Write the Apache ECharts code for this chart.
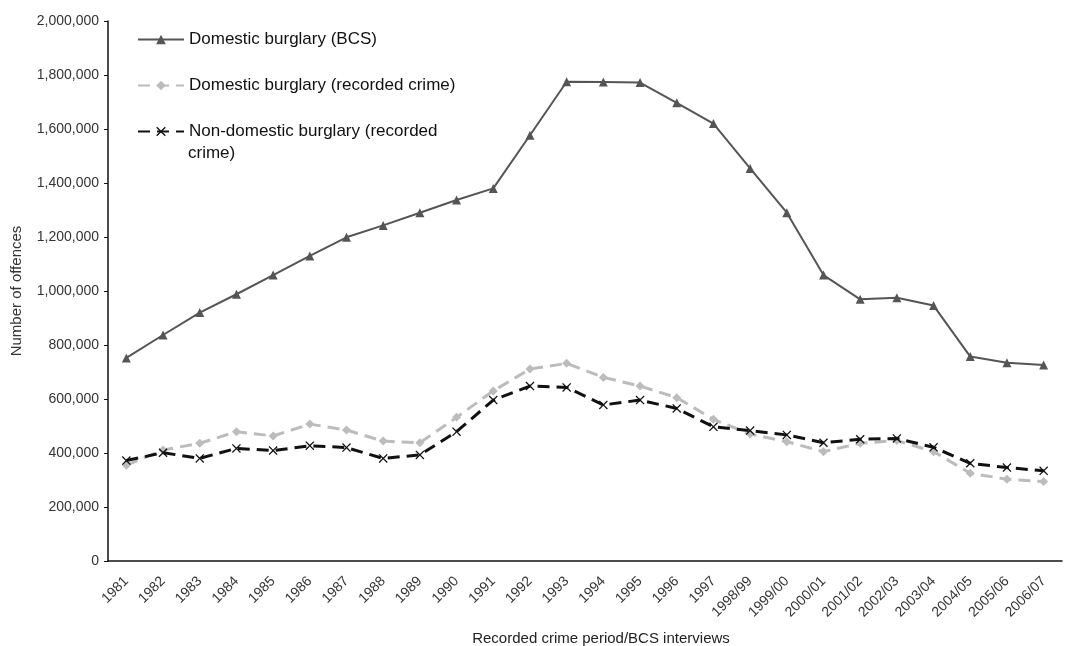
<!DOCTYPE html>
<html>
<head>
<meta charset="utf-8">
<script src="https://cdn.jsdelivr.net/npm/echarts@6/dist/echarts.min.js"></script>
<style>html,body{margin:0;padding:0;background:#fff;}#c{width:1079px;height:646px;}</style>
</head>
<body>
<div id="c"></div>
<script>
const categories = ['1981','1982','1983','1984','1985','1986','1987','1988','1989','1990','1991','1992','1993','1994','1995','1996','1997','1998/99','1999/00','2000/01','2001/02','2002/03','2003/04','2004/05','2005/06','2006/07'];
const bcsDomestic = [752000,837000,920000,988000,1059000,1130000,1199000,1243000,1290000,1337000,1380000,1577000,1775000,1774000,1772000,1697000,1620000,1454000,1290000,1059000,969000,975000,946000,757000,734000,726000];
const recordedDomestic = [355000,411000,436000,479000,463000,507000,485000,444000,438000,532000,630000,711000,732000,680000,648000,605000,525000,470000,442000,405000,436000,446000,405000,325000,303000,294000];
const recordedNonDomestic = [372000,401000,380000,417000,409000,427000,420000,380000,393000,479000,596000,648000,643000,578000,596000,565000,497000,483000,467000,438000,451000,454000,421000,362000,346000,334000];
const seriesNames = ['Domestic burglary (BCS)','Domestic burglary (recorded crime)','Non-domestic burglary (recorded crime)'];

const FONT = "'Liberation Sans', Arial, sans-serif";
const xPath = 'path://M0,1 L1,0 L5,4 L9,0 L10,1 L6,5 L10,9 L9,10 L5,6 L1,10 L0,9 L4,5 Z';

const chart = echarts.init(document.getElementById('c'), null, {renderer:'canvas'});
chart.setOption({
  backgroundColor:'#fff',
  animation:false,
  grid:{left:108, right:17, top:21, bottom:85, outerBoundsMode:'none', containLabel:false},
  legend:{
    orient:'vertical', left:132, top:26, itemGap:29, itemWidth:46, itemHeight:12,
    data:seriesNames,
    formatter:function(n){ return n === seriesNames[2] ? 'Non-domestic burglary (recorded' : n; },
    textStyle:{fontFamily:FONT, fontSize:17, color:'#111'}
  },
  graphic:[{type:'text', left:188, top:145, style:{text:'crime)', font:"17px 'Liberation Sans', Arial, sans-serif", fill:'#111'}}],
  xAxis:{
    type:'category', data:categories, boundaryGap:true,
    name:'Recorded crime period/BCS interviews', nameLocation:'middle', nameGap:70,
    nameTextStyle:{fontFamily:FONT, fontSize:15, color:'#222', padding:[0,0,0,32]},
    axisLine:{lineStyle:{color:'#111', width:1.5}},
    axisTick:{alignWithLabel:false, length:5, lineStyle:{color:'#111'}},
    axisLabel:{rotate:45, interval:0, fontFamily:FONT, fontSize:14, color:'#333', margin:18},
    splitLine:{show:false}
  },
  yAxis:{
    type:'value', min:0, max:2000000, interval:200000,
    name:'Number of offences', nameLocation:'middle', nameGap:84,
    nameTextStyle:{fontFamily:FONT, fontSize:15, color:'#333'},
    axisLine:{show:true, lineStyle:{color:'#111', width:1.5}},
    axisTick:{show:true, length:4, lineStyle:{color:'#111'}},
    axisLabel:{fontFamily:FONT, fontSize:14, color:'#333', margin:9,
      formatter:function(v){ return v.toLocaleString('en-US'); }},
    splitLine:{show:false}
  },
  series:[
    {name:seriesNames[0], type:'line', data:bcsDomestic, symbol:'triangle', symbolSize:9,
     lineStyle:{color:'#555', width:2}, itemStyle:{color:'#555'}, z:3},
    {name:seriesNames[1], type:'line', data:recordedDomestic, symbol:'diamond', symbolSize:9,
     lineStyle:{color:'#bcbcbc', width:3, type:[12,7]}, itemStyle:{color:'#bcbcbc'}, z:2},
    {name:seriesNames[2], type:'line', data:recordedNonDomestic, symbol:xPath, symbolSize:9,
     lineStyle:{color:'#111', width:3, type:[12,7]}, itemStyle:{color:'#111'}, z:4}
  ]
});
</script>
</body>
</html>
